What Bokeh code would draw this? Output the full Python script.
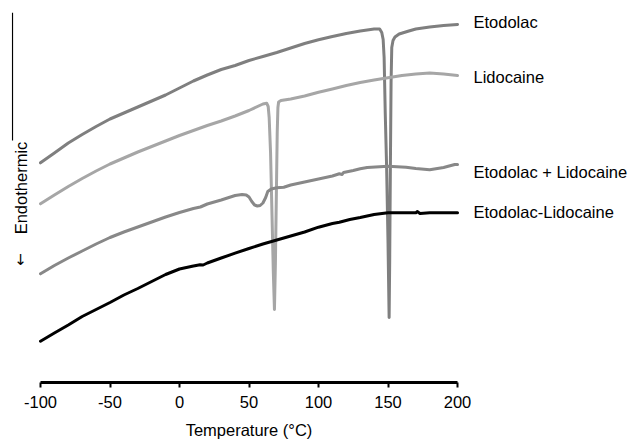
from math import pi
from bokeh.plotting import figure
from bokeh.models import Range1d, LinearAxis, Label, FixedTicker
from bokeh.embed import file_html
from bokeh.resources import INLINE
from bokeh.core.properties import value

# ---------------- data (heat flow, arbitrary units) ----------------
ETO_T = [-100, -90, -80, -70, -60, -50, -40, -30, -20, -10, 0, 10, 20, 30, 40, 50, 60,
         70, 80, 90, 100, 110, 120, 130, 140, 144, 145.5, 146.5, 147.2, 148, 149, 150,
         150.8, 151.2, 151.7, 152.2, 152.7, 153.6, 155, 158, 165, 170, 180, 190, 200]
ETO_Y = [219.7, 229.5, 239.5, 248, 256, 263.5, 269.5, 275.5, 281.5, 287.5, 294.5, 301.5,
         307.5, 313, 317, 322, 326, 330, 334.5, 339, 342.7, 346, 349, 351.5, 353.5, 353.5,
         350, 343, 325, 270, 215, 140, 65, 120, 215, 300, 335, 342, 345.5, 348.5, 351.5,
         353.5, 355.5, 357, 358]

LID_T = [-100, -90, -80, -70, -60, -50, -40, -30, -20, -10, 0, 10, 20, 30, 40, 50, 60,
         62.7, 63.8, 64.5, 65.5, 66.5, 67.5, 68.3, 69, 69.7, 70.3, 70.8, 71.3, 73, 80, 90,
         100, 110, 120, 130, 140, 150, 160, 170, 180, 190, 200]
LID_Y = [178.7, 187.5, 196, 204, 211.5, 218.5, 224.5, 230.5, 236, 241.5, 247, 252, 257,
         261.5, 266.5, 272, 278.5, 279.3, 276, 265, 230, 170, 110, 73, 120, 190, 250, 275,
         280.5, 282, 283.5, 286.5, 290.3, 293.5, 297, 300, 302.5, 304.7, 307, 308.5, 309.5,
         308.5, 307]

MIX_T = [-100, -90, -80, -70, -60, -50, -40, -30, -20, -10, 0, 10, 15, 20, 30, 40, 45, 48,
         50, 52, 54, 56, 58, 60, 62, 63.5, 66, 70, 75, 80, 90, 100, 110, 115, 117, 118, 125,
         130, 135, 150, 163, 170, 180, 190, 198, 200]
MIX_Y = [108.7, 117, 124.5, 131.5, 138.5, 145, 150.5, 155.5, 160.5, 165.5, 170, 174, 175.5,
         178.5, 182.5, 187, 188, 187.5, 185.5, 181, 177.5, 176.5, 177, 179.5, 185, 191,
         193.5, 194.7, 195.3, 197.5, 200.5, 203.5, 206.5, 208.7, 208, 210, 212, 213.7, 215,
         216.3, 215.3, 214, 212.7, 215, 218, 218]

EUT_T = [-100, -90, -80, -70, -60, -50, -40, -30, -20, -10, 0, 10, 14.8, 17, 20, 30, 40,
         50, 60, 70, 80, 90, 100, 110, 115, 122.5, 130, 140, 150, 160, 170, 171, 173, 180,
         190, 200]
EUT_Y = [41.3, 49.5, 57.5, 66, 73, 80, 87.5, 94, 101, 108, 113.5, 116.5, 117.7, 117.5,
         119.5, 124.5, 129.3, 134, 138.5, 142.5, 146.5, 150.5, 155.3, 159, 160.3, 163, 165,
         168, 169.7, 169.7, 169.7, 171, 169, 169.7, 169.7, 169.7]

SERIES_NAMES = ["Etodolac", "Lidocaine", "Etodolac + Lidocaine", "Etodolac-Lidocaine"]
SERIES_COLORS = ["#7f7f7f", "#a6a6a6", "#888888", "#000000"]
LABEL_Y = [361, 305.5, 210.5, 170.5]
X_TICKS = [-100, -50, 0, 50, 100, 150, 200]
X_TICK_LABELS = ["-100", "-50", "0", "50", "100", "150", "200"]
X_LABEL = "Temperature (°C)"
Y_LABEL = "Endothermic"

FONT = "Liberation Sans"
FS = "16.5px"

# frame covers the whole area, including the space under the axis line (y < 0)
p = figure(frame_width=622, frame_height=427,
           min_border_left=11, min_border_right=0, min_border_top=12, min_border_bottom=0,
           x_range=Range1d(-120.86, 326.6), y_range=Range1d(-57, 370),
           x_axis_type=None, y_axis_type=None,
           output_backend="svg", toolbar_location=None)
p.outline_line_color = None
p.background_fill_color = "white"
p.border_fill_color = "white"

xaxis = LinearAxis(ticker=FixedTicker(ticks=X_TICKS), bounds=(X_TICKS[0], X_TICKS[-1]))
xaxis.fixed_location = 0
xaxis.major_label_overrides = {t: s for t, s in zip(X_TICKS, X_TICK_LABELS)}
xaxis.axis_line_width = 3
xaxis.axis_line_color = "black"
xaxis.major_tick_line_width = 2
xaxis.major_tick_line_color = "black"
xaxis.major_tick_out = 5
xaxis.major_tick_in = 0
xaxis.minor_tick_line_color = None
xaxis.major_label_text_font = FONT
xaxis.major_label_text_font_size = FS
xaxis.major_label_text_color = "black"
xaxis.major_label_standoff = 8
p.add_layout(xaxis, "below")

# axis title centred under the axis span (-100..200)
p.add_layout(Label(x=(X_TICKS[0] + X_TICKS[-1]) / 2, y=-47.3, text=X_LABEL,
                   text_align="center", text_baseline="middle", text_font=FONT,
                   text_font_size=FS, text_color="black"))

# y axis line (no ticks)
YLINE_X = -120.14
p.segment(x0=[YLINE_X], y0=[242], x1=[YLINE_X], y1=[370], line_color="black", line_width=1.2)

for t, y, c in zip([ETO_T, LID_T, MIX_T, EUT_T], [ETO_Y, LID_Y, MIX_Y, EUT_Y], SERIES_COLORS):
    p.line(t, y, line_color=c, line_width=3, line_join="round", line_cap="round")

p.text(x=[211.5] * 4, y=LABEL_Y, text=SERIES_NAMES, text_font=value(FONT),
       text_font_size=FS, text_color="black", text_align="left", text_baseline="middle")

p.add_layout(Label(x=-113.7, y=194.5, text=Y_LABEL, angle=pi / 2, text_align="center",
                   text_baseline="middle", text_font=FONT, text_font_size=FS,
                   text_color="black"))
p.add_layout(Label(x=-114.4, y=123, text="↓", text_align="center", text_baseline="middle",
                   text_font="DejaVu Sans", text_font_size="15px", text_color="black"))

open("out.html", "w").write(file_html(p, INLINE))
